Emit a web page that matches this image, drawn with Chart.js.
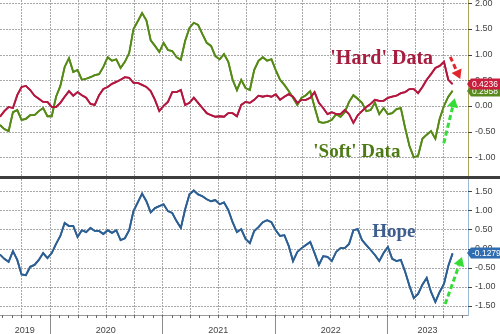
<!DOCTYPE html>
<html>
<head>
<meta charset="utf-8">
<script src="https://cdn.jsdelivr.net/npm/chart.js@4"></script>
<style>
  html, body { margin: 0; padding: 0; background: #fff; }
  #wrap { position: relative; width: 500px; height: 334px; }
  #topBox { position: absolute; left: 0; top: 0; width: 500px; height: 176px; }
  #rule { position: absolute; left: 0; top: 176px; width: 500px; height: 3px; background: #3d3d3d; }
  #bottomBox { position: absolute; left: 0; top: 179px; width: 500px; height: 155px; }
</style>
</head>
<body>
<div id="wrap">
  <div id="topBox"><canvas id="topChart"></canvas></div>
  <div id="rule"></div>
  <div id="bottomBox"><canvas id="bottomChart"></canvas></div>
</div>
<script>
// fortnightly readings, first one on 2019-07-24
const firstDate = '2019-07-24';
const stepDays = 14;
const axisStart = '2019-07-24';
const axisEnd = '2023-09-21';

const hardData = [
  -0.21, -0.10, -0.02, -0.04, 0.21, 0.37, 0.39, 0.31, 0.20, 0.14,
  0.08, 0.08, -0.02, -0.02, 0.06, 0.18, 0.29, 0.20, 0.27, 0.21,
  0.16, 0.04, 0.02, 0.21, 0.33, 0.37, 0.43, 0.47, 0.51, 0.56,
  0.55, 0.45, 0.45, 0.41, 0.37, 0.29, 0.12, -0.10, 0.00, 0.08,
  0.27, 0.27, 0.31, 0.02, 0.06, 0.16, 0.06, -0.04, -0.14, -0.18,
  -0.21, -0.20, -0.21, -0.14, -0.14, -0.20, 0.02, 0.08, 0.06, 0.12,
  0.20, 0.18, 0.20, 0.18, 0.23, 0.12, 0.18, 0.23, 0.18, 0.06,
  0.12, 0.12, 0.16, 0.27, 0.06, -0.04, -0.16, -0.12, -0.16, -0.16,
  -0.08, -0.16, -0.33, -0.18, -0.10, -0.02, 0.04, 0.12, 0.10, 0.10,
  0.16, 0.18, 0.20, 0.25, 0.27, 0.33, 0.33, 0.25, 0.37, 0.51,
  0.62, 0.74, 0.78, 0.86, 0.51, 0.4236
];

const softData = [
  -0.37, -0.45, -0.49, -0.12, -0.08, -0.27, -0.25, -0.18, -0.18, -0.10,
  -0.04, -0.20, -0.20, 0.18, 0.39, 0.76, 0.93, 0.66, 0.70, 0.51,
  0.53, 0.56, 0.60, 0.62, 0.76, 0.95, 0.88, 0.91, 0.74, 0.86,
  1.03, 1.50, 1.65, 1.81, 1.67, 1.28, 1.17, 1.05, 1.23, 1.09,
  1.07, 0.95, 0.90, 1.27, 1.52, 1.62, 1.58, 1.40, 1.23, 1.17,
  0.97, 0.91, 1.01, 0.86, 0.51, 0.31, 0.51, 0.35, 0.31, 0.70,
  0.88, 0.95, 0.88, 0.91, 0.70, 0.51, 0.41, 0.29, 0.16, 0.02,
  0.16, 0.21, 0.29, -0.02, -0.31, -0.33, -0.31, -0.27, -0.16, -0.21,
  -0.12, 0.08, 0.21, 0.14, 0.06, -0.10, -0.08, 0.06, -0.16, -0.04,
  -0.16, -0.14, -0.06, -0.04, -0.43, -0.78, -1.00, -0.97, -0.64, -0.56,
  -0.49, -0.64, -0.25, 0.00, 0.18, 0.2958
];

const hopeData = [
  -0.16, -0.27, -0.35, -0.07, -0.30, -0.68, -0.70, -0.48, -0.43, -0.30,
  -0.12, -0.25, -0.12, 0.12, 0.33, 0.67, 0.59, 0.59, 0.30, 0.48,
  0.43, 0.54, 0.46, 0.46, 0.38, 0.48, 0.41, 0.48, 0.22, 0.27,
  0.48, 0.98, 1.21, 1.44, 1.24, 0.95, 1.06, 1.11, 1.16, 0.98,
  0.93, 0.72, 0.54, 1.03, 1.42, 1.52, 1.42, 1.37, 1.29, 1.24,
  1.27, 1.16, 1.21, 1.01, 0.69, 0.43, 0.51, 0.25, 0.14, 0.46,
  0.56, 0.69, 0.74, 0.69, 0.48, 0.33, 0.35, 0.07, -0.33, -0.09,
  0.01, 0.09, 0.17, -0.12, -0.43, -0.20, -0.22, -0.33, -0.09, 0.01,
  0.01, 0.12, 0.48, 0.51, 0.22, 0.09, -0.04, -0.17, -0.33, -0.12,
  0.04, -0.27, -0.33, -0.30, -0.61, -0.98, -1.30, -1.19, -0.95, -0.77,
  -1.14, -1.40, -1.14, -0.93, -0.46, -0.1279
];

const topTicks = [-1.0, -0.5, 0.0, 0.5, 1.0, 1.5, 2.0];
const bottomTicks = [-1.5, -1.0, -0.5, 0.0, 0.5, 1.0, 1.5];
const yearLabels = [2019, 2020, 2021, 2022, 2023];

const gridColor = '#a8a8a8';
Chart.defaults.font.family = '"Liberation Sans", Arial, sans-serif';

function toDate(s) {
  const [y, m, d] = s.split('-').map(Number);
  return Date.UTC(y, m - 1, d);
}
// dates become fractional years so a linear scale can be used
function yearFrac(ms) {
  const y = new Date(ms).getUTCFullYear();
  const a = Date.UTC(y, 0, 1), b = Date.UTC(y + 1, 0, 1);
  return y + (ms - a) / (b - a);
}

const xMin = yearFrac(toDate(axisStart));
const xMax = yearFrac(toDate(axisEnd));
const t0 = toDate(firstDate);
const xs = hardData.map((_, i) => yearFrac(t0 + i * stepDays * 86400000));
const points = arr => arr.map((v, i) => ({ x: xs[i], y: v }));

// month marks along the time axis, every third one gets a grid line
const monthTicks = [];
for (let y = 2019; y <= 2023; y++) {
  for (let m = 0; m < 12; m++) {
    const v = yearFrac(Date.UTC(y, m, 1));
    if (v > xMin && v < xMax) monthTicks.push({ value: v, kind: m % 3 === 0 ? 'quarter' : 'month' });
  }
}
const quarterTicks = monthTicks.filter(t => t.kind === 'quarter');
const labelTicks = yearLabels.map(y => {
  const lo = Math.max(y, xMin), hi = Math.min(y + 1, xMax);
  return { value: (lo + hi) / 2, kind: 'label', text: String(y) };
});

function sizeY(scale) {
  scale.width = 32;
  scale.paddingTop = 0;
  scale.paddingBottom = 0;
}

function strokeLine(ctx, x1, y1, x2, y2) {
  ctx.beginPath();
  ctx.moveTo(x1, y1);
  ctx.lineTo(x2, y2);
  ctx.stroke();
}

function drawArrow(ctx, x1, y1, x2, y2, color) {
  const ang = Math.atan2(y2 - y1, x2 - x1);
  const head = 9;
  const bx = x2 - Math.cos(ang) * head, by = y2 - Math.sin(ang) * head;
  ctx.save();
  ctx.strokeStyle = color;
  ctx.fillStyle = color;
  ctx.lineWidth = 3;
  ctx.setLineDash([5, 3]);
  strokeLine(ctx, x1, y1, bx, by);
  ctx.setLineDash([]);
  ctx.beginPath();
  ctx.moveTo(x2, y2);
  ctx.lineTo(bx + Math.sin(ang) * 5.5, by - Math.cos(ang) * 5.5);
  ctx.lineTo(bx - Math.sin(ang) * 5.5, by + Math.cos(ang) * 5.5);
  ctx.closePath();
  ctx.fill();
  ctx.restore();
}

// dotted grid: 2px dashes on a 3px period
function dottedGrid(chart, levels) {
  const { ctx, chartArea: a, scales: { x, y } } = chart;
  ctx.save();
  ctx.fillStyle = gridColor;
  for (const t of quarterTicks) {
    const px = Math.round(x.getPixelForValue(t.value));
    for (let py = Math.ceil(a.top); py < a.bottom; py += 3) ctx.fillRect(px, py, 1, 2);
  }
  for (const v of levels) {
    const py = Math.round(y.getPixelForValue(v));
    for (let px = Math.ceil(a.left); px < a.right; px += 3) ctx.fillRect(px, py, 2, 1);
  }
  ctx.restore();
}

// grid, then the series again on top of it, then captions and dashed arrows
const notes = {
  id: 'notes',
  afterDatasetsDraw(chart, args, opts) {
    const { ctx, chartArea: area, scales: { x, y } } = chart;
    dottedGrid(chart, opts.levels || []);
    ctx.save();
    ctx.beginPath();
    ctx.rect(area.left, area.top - 2, area.right - area.left, area.bottom - area.top + 4);
    ctx.clip();
    const metas = chart.getSortedVisibleDatasetMetas();
    for (let i = metas.length - 1; i >= 0; i--) metas[i].controller.draw();
    ctx.restore();

    ctx.save();
    for (const n of opts.labels || []) {
      ctx.font = n.font;
      ctx.fillStyle = n.color;
      ctx.textBaseline = 'alphabetic';
      ctx.fillText(n.text, x.getPixelForValue(n.x), y.getPixelForValue(n.y));
    }
    ctx.restore();
    for (const a of opts.arrows || []) {
      drawArrow(ctx, x.getPixelForValue(a.from[0]), y.getPixelForValue(a.from[1]),
        x.getPixelForValue(a.to[0]), y.getPixelForValue(a.to[1]), a.color);
    }
  }
};

// tick marks outside the plot and last-value tags on the right axis
const valueTags = {
  id: 'valueTags',
  afterDraw(chart, args, opts) {
    const { ctx, chartArea } = chart;
    const y = chart.scales.y, x = chart.scales.x;
    const x0 = chartArea.right + 1;
    ctx.save();
    ctx.lineWidth = 1;
    ctx.strokeStyle = '#444';
    for (const v of opts.levels || []) {
      const py = Math.round(y.getPixelForValue(v)) + 0.5;
      strokeLine(ctx, chartArea.right, py, chartArea.right + 4, py);
    }
    if (opts.monthMarks) {
      ctx.strokeStyle = '#666';
      for (const t of monthTicks) {
        const px = Math.round(x.getPixelForValue(t.value)) + 0.5;
        strokeLine(ctx, px, chartArea.bottom, px, chartArea.bottom + 3);
      }
      ctx.strokeStyle = '#8c8c8c';
      for (let yr = 2020; yr <= 2023; yr++) {
        const px = Math.round(x.getPixelForValue(yr)) + 0.5;
        strokeLine(ctx, px, chartArea.bottom + 2, px, chart.height);
      }
    }
    ctx.font = '8.5px "Liberation Sans", Arial, sans-serif';
    ctx.textBaseline = 'middle';
    for (const tag of opts.tags || []) {
      const py = Math.round(y.getPixelForValue(tag.value));
      ctx.fillStyle = tag.color;
      ctx.beginPath();
      ctx.moveTo(x0 - 2, py);
      ctx.lineTo(x0 + 2, py - 5.5);
      ctx.lineTo(chart.width, py - 5.5);
      ctx.lineTo(chart.width, py + 5.5);
      ctx.lineTo(x0 + 2, py + 5.5);
      ctx.closePath();
      ctx.fill();
      ctx.fillStyle = '#fff';
      ctx.fillText(tag.value.toFixed(4), x0 + 3, py + 0.5);
    }
    ctx.restore();
  }
};

const lineStyle = { borderWidth: 1.8, pointRadius: 0, tension: 0, fill: false };

const topChart = new Chart(document.getElementById('topChart'), {
  type: 'line',
  data: {
    datasets: [
      { label: "'Hard' Data", data: points(hardData), borderColor: '#b3173f', ...lineStyle },
      { label: "'Soft' Data", data: points(softData), borderColor: '#568a16', ...lineStyle }
    ]
  },
  options: {
    responsive: true,
    maintainAspectRatio: false,
    animation: false,
    devicePixelRatio: 1,
    layout: { padding: 0 },
    plugins: {
      legend: { display: false },
      tooltip: { enabled: false },
      notes: {
        levels: topTicks,
        labels: [
          { text: "'Hard' Data", x: 2022.496, y: 0.82, color: '#a61d3f', font: 'bold 20px "Liberation Serif", serif' },
          { text: "'Soft' Data", x: 2022.345, y: -1.0, color: '#4d7a14', font: 'bold 19px "Liberation Serif", serif' }
        ],
        arrows: [
          { from: [2023.563, 0.955], to: [2023.652, 0.526], color: '#e3262e' },
          { from: [2023.505, -0.727], to: [2023.603, 0.15], color: '#36dc36' }
        ]
      },
      valueTags: {
        levels: topTicks,
        monthMarks: false,
        tags: [
          { value: softData[softData.length - 1], color: '#5a8a1e' },
          { value: hardData[hardData.length - 1], color: '#c81d3c' }
        ]
      }
    },
    scales: {
      x: {
        type: 'linear',
        min: xMin,
        max: xMax,
        afterBuildTicks: s => { s.ticks = quarterTicks.map(t => ({ value: t.value })); },
        afterFit: s => { s.height = 0; s.paddingLeft = 0; s.paddingRight = 0; },
        ticks: { display: false, autoSkip: false },
        grid: { display: false, drawTicks: false },
        border: { display: false }
      },
      y: {
        position: 'right',
        min: -1.364,
        max: 2.064,
        afterBuildTicks: s => { s.ticks = topTicks.map(v => ({ value: v })); },
        afterFit: sizeY,
        ticks: { padding: 3, autoSkip: false, color: '#444', font: { size: 9 }, callback: v => v.toFixed(2) },
        grid: { display: false, tickLength: 4 },
        border: { color: '#aaa35a' }
      }
    }
  },
  plugins: [notes, valueTags]
});

const bottomChart = new Chart(document.getElementById('bottomChart'), {
  type: 'line',
  data: {
    datasets: [
      { label: 'Hope', data: points(hopeData), borderColor: '#2c5f94', ...lineStyle }
    ]
  },
  options: {
    responsive: true,
    maintainAspectRatio: false,
    animation: false,
    devicePixelRatio: 1,
    layout: { padding: 0 },
    plugins: {
      legend: { display: false },
      tooltip: { enabled: false },
      notes: {
        levels: bottomTicks,
        labels: [
          { text: 'Hope', x: 2022.869, y: 0.294, color: '#3d5e8e', font: 'bold 19px "Liberation Serif", serif' }
        ],
        arrows: [
          { from: [2023.518, -1.456], to: [2023.667, -0.223], color: '#36dc36' }
        ]
      },
      valueTags: {
        levels: bottomTicks,
        monthMarks: true,
        tags: [{ value: hopeData[hopeData.length - 1], color: '#2f6db0' }]
      }
    },
    scales: {
      x: {
        type: 'linear',
        min: xMin,
        max: xMax,
        afterBuildTicks: s => { s.ticks = labelTicks.map(t => ({ value: t.value, text: t.text })); },
        afterFit: s => { s.height = 19; s.paddingLeft = 0; s.paddingRight = 0; },
        ticks: {
          autoSkip: false,
          maxRotation: 0,
          minRotation: 0,
          padding: 7,
          color: '#444',
          font: { size: 9 },
          callback: (v, i, ticks) => ticks[i].text || ''
        },
        grid: { display: false, tickLength: 3 },
        border: { color: '#9a9a9a' }
      },
      y: {
        position: 'right',
        min: -1.744,
        max: 1.823,
        afterBuildTicks: s => { s.ticks = bottomTicks.map(v => ({ value: v })); },
        afterFit: sizeY,
        ticks: { padding: 3, autoSkip: false, color: '#444', font: { size: 9 }, callback: v => v.toFixed(2) },
        grid: { display: false, tickLength: 4 },
        border: { color: '#9cb8d4' }
      }
    }
  },
  plugins: [notes, valueTags]
});
</script>
</body>
</html>
